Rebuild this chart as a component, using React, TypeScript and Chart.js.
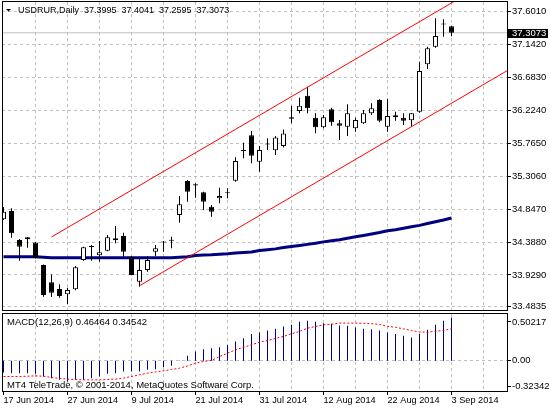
import React, { useEffect, useRef } from 'react';
import { Chart, registerables } from 'chart.js';

Chart.register(...registerables);

const FONT = '"Liberation Sans", Arial, sans-serif';
const SYMBOL = 'USDRUR,Daily';

// Daily candles, 17 Jun 2014 .. 3 Sep 2014 (trading days)
const OPEN = [34.705, 34.821, 34.416, 34.426, 34.381, 34.067, 33.826, 33.732, 33.658, 33.728,
  34.137, 34.332, 34.203, 34.267, 34.440, 34.472, 34.183, 33.834, 33.997, 34.253,
  34.381, 34.406, 34.765, 35.239, 35.193, 35.081, 34.881, 34.998, 35.067, 35.243,
  35.665, 35.877, 35.508, 35.748, 35.667, 35.727, 36.128, 36.216, 36.429, 36.122,
  35.988, 36.239, 36.044, 35.997, 35.974, 36.044, 36.184, 36.369, 35.997, 36.128,
  36.122, 36.086, 36.206, 36.867, 37.113, 37.429, 37.3995];
const HIGH = [34.876, 34.858, 34.430, 34.458, 34.392, 34.075, 33.935, 33.798, 33.751, 34.053,
  34.323, 34.346, 34.402, 34.486, 34.611, 34.518, 34.193, 34.161, 34.193, 34.346,
  34.402, 34.462, 35.030, 35.253, 35.207, 35.090, 34.904, 35.146, 35.137, 35.570,
  35.773, 35.937, 35.727, 35.835, 35.867, 35.958, 36.290, 36.401, 36.555, 36.184,
  36.160, 36.262, 36.090, 36.309, 36.122, 36.230, 36.323, 36.379, 36.383, 36.206,
  36.184, 36.188, 36.903, 37.113, 37.509, 37.495, 37.4041];
const LOW = [34.695, 34.448, 34.127, 34.309, 34.158, 33.625, 33.621, 33.611, 33.523, 33.714,
  34.127, 34.127, 34.113, 34.258, 34.370, 34.183, 33.924, 33.765, 33.974, 34.193,
  34.253, 34.300, 34.657, 34.950, 35.006, 34.835, 34.741, 34.928, 34.998, 35.229,
  35.556, 35.486, 35.369, 35.672, 35.602, 35.706, 36.044, 36.184, 36.184, 35.905,
  35.974, 36.011, 35.811, 35.867, 35.927, 36.034, 36.160, 36.058, 35.927, 36.080,
  36.020, 35.997, 36.192, 36.802, 37.099, 37.252, 37.2595];
const CLOSE = [34.811, 34.509, 34.323, 34.454, 34.165, 33.649, 33.681, 33.635, 33.718, 34.035,
  34.314, 34.314, 34.244, 34.454, 34.416, 34.253, 33.928, 33.997, 34.137, 34.300,
  34.388, 34.412, 34.914, 35.090, 35.176, 34.950, 34.811, 35.030, 35.072, 35.518,
  35.658, 35.592, 35.672, 35.759, 35.846, 35.902, 36.108, 36.290, 36.253, 35.988,
  36.128, 36.058, 36.011, 36.184, 36.090, 36.184, 36.253, 36.080, 36.146, 36.156,
  36.080, 36.184, 36.774, 37.090, 37.262, 37.422, 37.3073];

// Moving average (navy line)
const MA = [34.183, 34.183, 34.183, 34.183, 34.183, 34.175, 34.169, 34.169, 34.169, 34.169,
  34.169, 34.169, 34.169, 34.169, 34.169, 34.169, 34.169, 34.169, 34.169, 34.169,
  34.169, 34.169, 34.176, 34.183, 34.200, 34.205, 34.210, 34.218, 34.225, 34.235,
  34.242, 34.250, 34.268, 34.280, 34.292, 34.310, 34.325, 34.340, 34.355, 34.370,
  34.390, 34.405, 34.420, 34.440, 34.460, 34.480, 34.500, 34.520, 34.545, 34.560,
  34.580, 34.600, 34.620, 34.645, 34.670, 34.695, 34.723];

// MACD(12,26,9)
const MACD_MAIN = [-0.125, -0.132, -0.132, -0.132, -0.139, -0.168, -0.186, -0.204, -0.221, -0.204,
  -0.204, -0.186, -0.168, -0.139, -0.132, -0.114, -0.114, -0.114, -0.096, -0.089,
  -0.068, -0.054, 0.004, 0.054, 0.100, 0.125, 0.136, 0.146, 0.171, 0.207,
  0.243, 0.289, 0.304, 0.325, 0.343, 0.368, 0.386, 0.418, 0.429, 0.418,
  0.404, 0.397, 0.379, 0.375, 0.357, 0.343, 0.339, 0.325, 0.304, 0.289,
  0.268, 0.250, 0.289, 0.332, 0.386, 0.429, 0.46464];
const MACD_SIGNAL = [-0.168, -0.168, -0.168, -0.165, -0.161, -0.165, -0.179, -0.188, -0.196, -0.201,
  -0.204, -0.204, -0.204, -0.200, -0.196, -0.185, -0.168, -0.150, -0.132, -0.120,
  -0.107, -0.093, -0.079, -0.055, -0.025, -0.007, 0.004, 0.046, 0.082, 0.118,
  0.146, 0.171, 0.200, 0.218, 0.240, 0.262, 0.290, 0.315, 0.350, 0.368,
  0.386, 0.393, 0.404, 0.404, 0.404, 0.402, 0.398, 0.390, 0.370, 0.360,
  0.343, 0.325, 0.310, 0.307, 0.318, 0.325, 0.34542];

// Channel (red lines), anchor points as [bar index, price]
const UPPER_CHANNEL = [{ x: 6, y: 34.458 }, { x: 63, y: 38.180 }];
const LOWER_CHANNEL = [{ x: 17, y: 33.778 }, { x: 63, y: 36.781 }];

const LAST_PRICE = 37.3073;
const PRICE_TICKS = [37.601, 37.142, 36.683, 36.224, 35.765, 35.306, 34.847, 34.388, 33.929, 33.4835];
const PRICE_MIN = 33.4394;
const PRICE_MAX = 37.7363;
const MACD_MIN = -0.32342;
const MACD_MAX = 0.50217;
const MACD_TICK_VALUES = [0.4164, 0, -0.2773];
const MACD_TICK_LABELS = ['0.50217', '0.00', '-0.32342'];
const DATE_LABELS = ['17 Jun 2014', '27 Jun 2014', '9 Jul 2014', '21 Jul 2014', '31 Jul 2014', '12 Aug 2014', '22 Aug 2014', '3 Sep 2014'];
const LABEL_STEP = 8;
const GRID_STEP = 4;
const X_MIN = -0.1875;
const X_MAX = 62.9375;

const IDX = OPEN.map((_, i) => i);
const GRID_TICKS: number[] = [];
for (let v = GRID_STEP; v <= 60; v += GRID_STEP) GRID_TICKS.push(v);
const LABEL_TICKS = DATE_LABELS.map((_, k) => k * LABEL_STEP);

const GRID_COLOR = '#c0c0c0';
const DASH = [3, 3];

function crisp(p: number) {
  return Math.floor(p) + 0.5;
}

function drawFrame(ctx: CanvasRenderingContext2D, a: any) {
  ctx.strokeStyle = '#000';
  ctx.lineWidth = 1;
  ctx.setLineDash([]);
  ctx.strokeRect(a.left + 0.5, a.top - 0.5, a.right - a.left, a.bottom - a.top + 1);
}

const mainDecor = {
  id: 'mainDecor',
  beforeDatasetsDraw(chart: any) {
    const { ctx, chartArea: a, scales } = chart;
    ctx.save();
    ctx.strokeStyle = GRID_COLOR;
    ctx.lineWidth = 1;
    ctx.setLineDash(DASH);
    ctx.beginPath();
    GRID_TICKS.forEach((v) => {
      const px = crisp(scales.x.getPixelForValue(v));
      ctx.moveTo(px, a.top);
      ctx.lineTo(px, a.bottom);
    });
    PRICE_TICKS.forEach((v) => {
      const py = crisp(scales.y.getPixelForValue(v));
      ctx.moveTo(a.left, py);
      ctx.lineTo(a.right, py);
    });
    ctx.stroke();
    ctx.restore();
  },
  afterDraw(chart: any) {
    const { ctx, chartArea: a, scales } = chart;
    ctx.save();
    drawFrame(ctx, a);
    // tick marks on the price axis
    ctx.beginPath();
    PRICE_TICKS.forEach((v) => {
      const py = crisp(scales.y.getPixelForValue(v));
      ctx.moveTo(a.right + 1, py);
      ctx.lineTo(a.right + 4, py);
    });
    ctx.stroke();
    // header
    ctx.fillStyle = '#000';
    ctx.beginPath();
    ctx.moveTo(6, 9);
    ctx.lineTo(11, 9);
    ctx.lineTo(8.5, 11.5);
    ctx.closePath();
    ctx.fill();
    ctx.font = `9px ${FONT}`;
    ctx.textBaseline = 'middle';
    ctx.textAlign = 'left';
    const n = OPEN.length - 1;
    const vals = [OPEN[n], HIGH[n], LOW[n], CLOSE[n]].map((v) => v.toFixed(4)).join('  ');
    ctx.fillText(SYMBOL + '  ' + vals, 18, 10.5);
    // last price marker
    const y = scales.y.getPixelForValue(LAST_PRICE);
    ctx.fillStyle = '#000';
    ctx.fillRect(a.right + 1, Math.round(y) - 4, 40, 9);
    ctx.fillStyle = '#fff';
    ctx.font = `9.5px ${FONT}`;
    ctx.fillText(LAST_PRICE.toFixed(4), a.right + 5, Math.round(y) + 0.5);
    ctx.restore();
  },
};

const macdDecor = {
  id: 'macdDecor',
  beforeDatasetsDraw(chart: any) {
    const { ctx, chartArea: a, scales } = chart;
    ctx.save();
    ctx.strokeStyle = GRID_COLOR;
    ctx.lineWidth = 1;
    ctx.setLineDash(DASH);
    ctx.beginPath();
    GRID_TICKS.forEach((v) => {
      const px = crisp(scales.x.getPixelForValue(v));
      ctx.moveTo(px, a.top);
      ctx.lineTo(px, a.bottom);
    });
    const pz = crisp(scales.y.getPixelForValue(0));
    ctx.moveTo(a.left, pz);
    ctx.lineTo(a.right, pz);
    ctx.stroke();
    ctx.restore();
  },
  afterDraw(chart: any) {
    const { ctx, chartArea: a, scales } = chart;
    ctx.save();
    drawFrame(ctx, a);
    ctx.beginPath();
    LABEL_TICKS.forEach((v) => {
      const px = crisp(scales.x.getPixelForValue(v));
      ctx.moveTo(px, a.bottom + 1);
      ctx.lineTo(px, a.bottom + 4);
    });
    MACD_TICK_VALUES.forEach((v) => {
      const py = crisp(scales.y.getPixelForValue(v));
      ctx.moveTo(a.right + 1, py);
      ctx.lineTo(a.right + 4, py);
    });
    ctx.stroke();
    ctx.fillStyle = '#000';
    ctx.font = `9.5px ${FONT}`;
    ctx.textBaseline = 'middle';
    ctx.textAlign = 'left';
    const n = MACD_MAIN.length - 1;
    ctx.fillText(`MACD(12,26,9) ${MACD_MAIN[n].toFixed(5)} ${MACD_SIGNAL[n].toFixed(5)}`, 7, 10.5);
    ctx.fillText('MT4 TeleTrade, © 2001-2014, MetaQuotes Software Corp.', 7, 73);
    ctx.restore();
  },
};

function mainConfig(): any {
  return {
    type: 'bar',
    data: {
      datasets: [
        {
          type: 'line', label: 'upper', data: UPPER_CHANNEL, borderColor: '#ff0000', borderWidth: 1,
          pointRadius: 0, order: -2,
        },
        {
          type: 'line', label: 'lower', data: LOWER_CHANNEL, borderColor: '#ff0000', borderWidth: 1,
          pointRadius: 0, order: -1,
        },
        {
          type: 'bar', label: 'body',
          data: IDX.map((i) => ({ x: i, y: [OPEN[i], CLOSE[i]] })),
          backgroundColor: IDX.map((i) => (CLOSE[i] >= OPEN[i] ? '#ffffff' : '#000000')),
          borderColor: '#000', borderWidth: 1, borderSkipped: false, barThickness: 5,
          minBarLength: 1, grouped: false, inflateAmount: 0, order: 0,
        },
        {
          type: 'bar', label: 'wick',
          data: IDX.map((i) => ({ x: i, y: [LOW[i], HIGH[i]] })),
          backgroundColor: '#000', borderWidth: 0, barThickness: 1, grouped: false,
          inflateAmount: 0, order: 1,
        },
        {
          type: 'line', label: 'ma', data: IDX.map((i) => ({ x: i, y: MA[i] })),
          borderColor: '#000080', borderWidth: 3, pointRadius: 0, tension: 0, order: 2,
        },
        {
          type: 'line', label: 'last',
          data: [{ x: X_MIN, y: LAST_PRICE }, { x: X_MAX, y: LAST_PRICE }],
          borderColor: GRID_COLOR, borderWidth: 1, pointRadius: 0, order: 3,
        },
      ],
    },
    options: {
      animation: false,
      responsive: false,
      devicePixelRatio: 1,
      events: [],
      layout: { padding: { left: 2, top: 2, right: 0, bottom: 2 } },
      plugins: { legend: { display: false }, tooltip: { enabled: false } },
      scales: {
        x: {
          type: 'linear', min: X_MIN, max: X_MAX, offset: false, bounds: 'data', position: 'bottom',
          afterBuildTicks: (s: any) => { s.ticks = GRID_TICKS.map((v) => ({ value: v })); },
          afterFit: (s: any) => { s.height = 0; s.paddingLeft = 0; s.paddingRight = 0; },
          ticks: { display: false },
          grid: { display: false, drawTicks: false, tickLength: 0 },
          border: { display: false },
        },
        y: {
          type: 'linear', position: 'right', min: PRICE_MIN, max: PRICE_MAX, bounds: 'data',
          afterBuildTicks: (s: any) => { s.ticks = PRICE_TICKS.map((v) => ({ value: v })); },
          afterFit: (s: any) => { s.width = 43; s.paddingTop = 0; s.paddingBottom = 0; },
          ticks: {
            color: '#000', font: { family: FONT, size: 9.5 }, padding: 5, autoSkip: false,
            callback: (v: any) => Number(v).toFixed(4),
          },
          grid: { display: false, drawTicks: false, tickLength: 0 },
          border: { display: false },
        },
      },
    },
    plugins: [mainDecor],
  };
}

function macdConfig(): any {
  return {
    type: 'bar',
    data: {
      datasets: [
        {
          type: 'line', label: 'signal', data: IDX.map((i) => ({ x: i, y: MACD_SIGNAL[i] })),
          borderColor: '#ff0000', borderWidth: 1, borderDash: [2, 2], pointRadius: 0, order: 0,
        },
        {
          type: 'bar', label: 'macd', data: IDX.map((i) => ({ x: i, y: MACD_MAIN[i] })),
          backgroundColor: '#000080', borderWidth: 0, barThickness: 1, grouped: false,
          inflateAmount: 0, order: 1,
        },
      ],
    },
    options: {
      animation: false,
      responsive: false,
      devicePixelRatio: 1,
      events: [],
      layout: { padding: { left: 2, top: 2, right: 0, bottom: 0 } },
      plugins: { legend: { display: false }, tooltip: { enabled: false } },
      scales: {
        x: {
          type: 'linear', min: X_MIN, max: X_MAX, offset: false, bounds: 'data', position: 'bottom',
          afterBuildTicks: (s: any) => { s.ticks = LABEL_TICKS.map((v) => ({ value: v })); },
          afterFit: (s: any) => { s.height = 19; s.paddingLeft = 0; s.paddingRight = 0; },
          ticks: {
            display: true, autoSkip: false, maxRotation: 0, minRotation: 0, align: 'start', padding: 4,
            color: '#000', font: { family: FONT, size: 9.2 },
            callback: (_v: any, i: number) => DATE_LABELS[i],
          },
          grid: { display: false, drawTicks: false, tickLength: 0 },
          border: { display: false },
        },
        y: {
          type: 'linear', position: 'right', min: MACD_MIN, max: MACD_MAX, bounds: 'data',
          afterBuildTicks: (s: any) => { s.ticks = MACD_TICK_VALUES.map((v) => ({ value: v })); },
          afterFit: (s: any) => { s.width = 43; s.paddingTop = 0; s.paddingBottom = 0; },
          ticks: {
            color: '#000', font: { family: FONT, size: 9.5 }, padding: 5, autoSkip: false,
            callback: (_v: any, i: number) => MACD_TICK_LABELS[i],
          },
          grid: { display: false, drawTicks: false, tickLength: 0 },
          border: { display: false },
        },
      },
    },
    plugins: [macdDecor],
  };
}

export default function App() {
  const mainRef = useRef<HTMLCanvasElement>(null);
  const macdRef = useRef<HTMLCanvasElement>(null);
  useEffect(() => {
    const c1 = new Chart(mainRef.current as HTMLCanvasElement, mainConfig());
    const c2 = new Chart(macdRef.current as HTMLCanvasElement, macdConfig());
    return () => {
      c1.destroy();
      c2.destroy();
    };
  }, []);
  return (
    <div style={{ position: 'fixed', left: 0, top: 0, width: 550, height: 410, background: '#fff' }}>
      <canvas ref={mainRef} width={550} height={312}
        style={{ position: 'absolute', left: 0, top: 0, width: 550, height: 312, display: 'block' }} />
      <canvas ref={macdRef} width={550} height={98}
        style={{ position: 'absolute', left: 0, top: 312, width: 550, height: 98, display: 'block' }} />
    </div>
  );
}
